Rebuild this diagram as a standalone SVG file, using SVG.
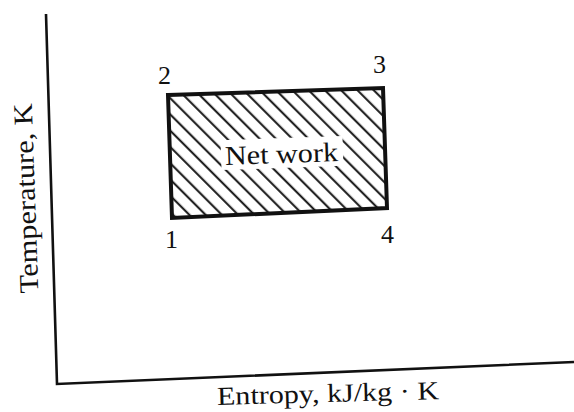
<svg xmlns="http://www.w3.org/2000/svg" width="574" height="412" viewBox="0 0 574 412">
<style>
.lbl{font-family:"Liberation Serif","Times New Roman",serif;fill:#111;}
.axis{fill:none;stroke:#111;stroke-width:2.6;stroke-linejoin:miter;}
</style>
<defs>
<pattern id="hatch" patternUnits="userSpaceOnUse" width="11.5" height="11.5" patternTransform="rotate(-45)">
<line x1="5" y1="-1" x2="5" y2="13" stroke="#111" stroke-width="2"/>
</pattern>
</defs>
<rect width="574" height="412" fill="#fff"/>
<g id="connectors">
<polyline class="axis" points="46,14 57,384 574,362"/>
</g>
<g id="network">
<polygon points="168,95 383,88 387,208 172,218" fill="url(#hatch)"/>
<rect x="221" y="138" width="122" height="30" fill="#fff" transform="rotate(-2 282 154)"/>
<polygon points="168,95 383,88 387,208 172,218" fill="none" stroke="#111" stroke-width="4"/>
<text class="lbl" x="225" y="163" font-size="27" textLength="113" lengthAdjust="spacingAndGlyphs" transform="rotate(-2 282 154)">Net work</text>
</g>
<g id="p1"><text class="lbl" x="165" y="248" font-size="26">1</text></g>
<g id="p2"><text class="lbl" x="158" y="84" font-size="26">2</text></g>
<g id="p3"><text class="lbl" x="373" y="73" font-size="26">3</text></g>
<g id="p4"><text class="lbl" x="381" y="243" font-size="26">4</text></g>
<g id="ylabel"><text class="lbl" x="0" y="0" font-size="27" text-anchor="middle" transform="translate(35,198) rotate(-92)" textLength="190" lengthAdjust="spacingAndGlyphs">Temperature, K</text></g>
<g id="xlabel"><text class="lbl" x="328" y="402" font-size="26" text-anchor="middle" textLength="222" lengthAdjust="spacingAndGlyphs" transform="rotate(-1.5 328 395)">Entropy, kJ/kg · K</text></g>
</svg>
